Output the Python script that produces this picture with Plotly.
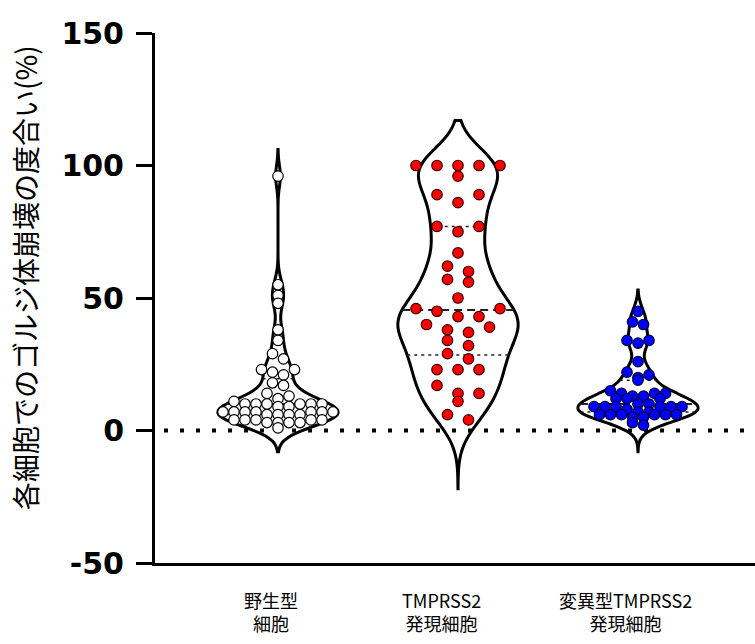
import numpy as np
import plotly.graph_objects as go

# ---------------- data ----------------
categories = ["野生型<br>細胞", "TMPRSS2<br>発現細胞", "変異型TMPRSS2<br>発現細胞"]
y_ticks = [-50, 0, 50, 100, 150]
y_tick_text = ["-50", "0", "50", "100", "150"]

wild_type = [96, 55, 51, 48, 38, 34, 29, 27, 23, 23, 22, 21, 18, 17,
             14, 13, 12, 11,
             10, 10, 10, 10, 10, 10, 9, 9,
             7, 7, 7, 7, 7, 7, 7, 6, 6, 6, 6,
             4, 4, 4, 4, 4, 3, 3, 3, 3, 1]
tmprss2 = [100, 100, 100, 100, 100, 96, 89, 89, 86, 77, 77, 75, 67, 62, 60, 57, 56, 50,
           46, 46, 45, 43, 43, 40, 39, 38, 37, 34, 32, 29, 27, 23, 23, 23, 17, 14, 14, 11, 6, 4]
mutant = [45, 41, 40, 34, 34, 33, 26, 22, 21, 20, 19,
          15, 14, 14, 14, 13, 13, 12, 12, 12,
          10, 10, 9, 9, 9, 9, 9, 9, 8,
          7, 7, 6, 6, 6, 6, 6, 6, 5, 5,
          3, 2]

groups = [wild_type, tmprss2, mutant]

# ---------------- style ----------------
fill_colors = ["white", "#ff0000", "#0000ff"]
edge_colors = ["black", "#3a0000", "#00003a"]
bandwidths = [4.0, 8.0, 3.5]
spans = [[-8, 106], [-22, 117], [-8, 53]]
row_gaps = [2.5, 3.5, 2.5]          # data units
spacings_px = [11.0, 21.0, 11.0]    # horizontal spacing of swarm points
violin_width = 0.667
PX_PER_X = 180.0
label_shift = [-7, -17, -13]


def swarm_offsets(values, row_gap, spacing):
    values = np.asarray(values, dtype=float)
    order = np.argsort(-values, kind="stable")
    rows, cur = [], []
    for idx in order:
        if cur and values[cur[0]] - values[idx] <= row_gap:
            cur.append(idx)
        else:
            if cur:
                rows.append(cur)
            cur = [idx]
    rows.append(cur)
    off = np.zeros(len(values))
    for row in rows:
        n = len(row)
        row_sorted = sorted(row, key=lambda i: values[i])
        if n % 2 == 1:
            slots = [0] + [s for k in range(1, n // 2 + 1) for s in (k, -k)]
        else:
            slots = [s for k in range(n // 2) for s in (k + 0.5, -(k + 0.5))]
        for i, s in zip(row_sorted, slots):
            off[i] = s * spacing
    return off


def kde(values, bw, grid):
    v = np.asarray(values, dtype=float)
    return np.exp(-0.5 * ((grid[:, None] - v[None, :]) / bw) ** 2).sum(axis=1)


fig = go.Figure()

# violins
for i, vals in enumerate(groups):
    fig.add_trace(go.Violin(
        x=[i] * len(vals), y=vals, width=violin_width,
        bandwidth=bandwidths[i], spanmode="manual", span=spans[i],
        scalemode="width", points=False, box_visible=False, meanline_visible=False,
        line=dict(color="black", width=3), fillcolor="rgba(0,0,0,0)",
        hoverinfo="skip", orientation="v",
    ))

# quartile / median lines
for i, vals in enumerate(groups):
    grid = np.linspace(spans[i][0], spans[i][1], 600)
    dmax = kde(vals, bandwidths[i], grid).max()
    q1, med, q3 = np.percentile(vals, [25, 50, 75])
    for q, dash, w in [(q1, "3px,4px", 1.5), (med, "8px,5px", 2), (q3, "3px,4px", 1.5)]:
        hw = violin_width / 2 * kde(vals, bandwidths[i], np.array([q]))[0] / dmax
        fig.add_trace(go.Scatter(
            x=[i - hw, i + hw], y=[q, q], mode="lines",
            line=dict(color="#222222", width=w, dash=dash),
            hoverinfo="skip",
        ))

# swarm points
for i, vals in enumerate(groups):
    off = swarm_offsets(vals, row_gaps[i], spacings_px[i]) / PX_PER_X
    fig.add_trace(go.Scatter(
        x=i + off, y=vals, mode="markers",
        marker=dict(size=10.5, color=fill_colors[i],
                    line=dict(color=edge_colors[i], width=1.2)),
        hoverinfo="skip",
    ))

# zero dotted line
fig.add_shape(type="line", xref="paper", x0=0.015, x1=1, yref="y", y0=0, y1=0,
              line=dict(color="black", width=4, dash="4px,12px"), layer="below")

# category labels
for i, lab in enumerate(categories):
    fig.add_annotation(x=i, xref="x", y=0, yref="paper", yanchor="middle",
                       yshift=-48, xshift=label_shift[i], text=lab,
                       showarrow=False, align="center",
                       font=dict(family="Noto Sans CJK JP", size=18, color="black"))

# y axis title
fig.add_annotation(x=-0.2167, xref="paper", y=0.5396, yref="paper", textangle=-90,
                   text="各細胞でのゴルジ体崩壊の度合い(%)", showarrow=False,
                   xanchor="center", yanchor="middle",
                   font=dict(family="Noto Sans CJK JP", size=28, color="black"))

fig.update_layout(width=755, height=644, margin=dict(l=155, r=0, t=33, b=81),
                  plot_bgcolor="white", paper_bgcolor="white", showlegend=False)
fig.update_xaxes(range=[-0.6833, 2.65], showline=True, linecolor="black", linewidth=3,
                 showticklabels=False, ticks="", showgrid=False, zeroline=False,
                 automargin=False)
fig.update_yaxes(range=[-50, 150], tickvals=y_ticks, ticktext=y_tick_text, showline=True,
                 linewidth=3, linecolor="black", ticks="outside", ticklen=16, tickwidth=3,
                 tickcolor="black", showgrid=False, zeroline=False, automargin=False,
                 ticklabelstandoff=6,
                 tickfont=dict(family="DejaVu Sans", size=30, color="black", weight="bold"))

fig.write_html("out.html", config={"displayModeBar": False},
               post_script="document.body.style.margin='0';")
